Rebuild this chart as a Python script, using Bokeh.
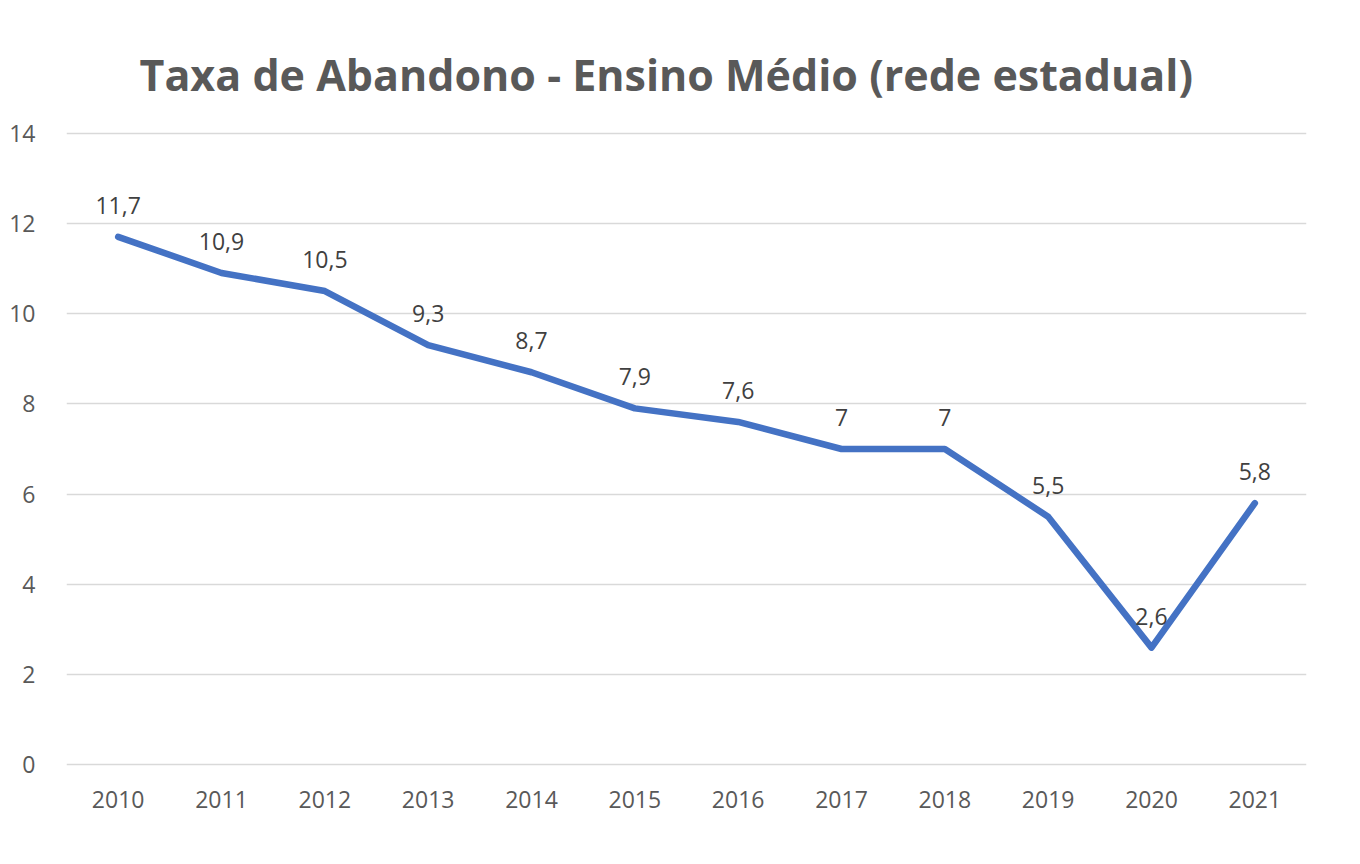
from bokeh.plotting import figure
from bokeh.models import ColumnDataSource, FixedTicker, Range1d, FactorRange
from bokeh.core.properties import value
from bokeh.embed import file_html
from bokeh.resources import INLINE

anos = ["2010", "2011", "2012", "2013", "2014", "2015", "2016", "2017", "2018", "2019", "2020", "2021"]
taxa = [11.7, 10.9, 10.5, 9.3, 8.7, 7.9, 7.6, 7.0, 7.0, 5.5, 2.6, 5.8]
rotulos = ["11,7", "10,9", "10,5", "9,3", "8,7", "7,9", "7,6", "7", "7", "5,5", "2,6", "5,8"]
y_ticks = [0, 2, 4, 6, 8, 10, 12, 14]

FONT = "Open Sans"

src = ColumnDataSource(data=dict(x=anos, y=taxa, lab=rotulos))

p = figure(width=1344, height=848, x_range=FactorRange(*anos), y_range=Range1d(-0.1, 14.1),
           output_backend="svg", toolbar_location=None,
           min_border_left=66, min_border_right=38, min_border_top=128, min_border_bottom=79)

p.title.text = "Taxa de Abandono - Ensino Médio (rede estadual)"
p.title.align = "left"
p.title.offset = 73
p.title.text_font = FONT
p.title.text_font_size = "43px"
p.title.text_font_style = "bold"
p.title.text_color = "#595959"
p.title.standoff = 49

p.outline_line_color = None
p.background_fill_color = "white"
p.border_fill_color = "white"

p.xgrid.grid_line_color = None
p.ygrid.grid_line_color = "#d9d9d9"
p.ygrid.grid_line_width = 1.5

p.yaxis.ticker = FixedTicker(ticks=y_ticks)
for ax in (p.xaxis, p.yaxis):
    ax.axis_line_color = None
    ax.major_tick_line_color = None
    ax.minor_tick_line_color = None
    ax.major_label_text_font = FONT
    ax.major_label_text_font_size = "23px"
    ax.major_label_text_color = "#595959"
p.yaxis.major_label_standoff = 25
p.xaxis.major_label_standoff = 15

p.line(x="x", y="y", source=src, line_color="#4472C4", line_width=6.5, line_join="round", line_cap="round")

p.text(x="x", y="y", text="lab", source=src, text_font=value(FONT), text_font_size="23px",
       text_color="#404040", text_align="center", text_baseline="bottom", y_offset=-23)

open("out.html", "w").write(file_html(p, INLINE))
